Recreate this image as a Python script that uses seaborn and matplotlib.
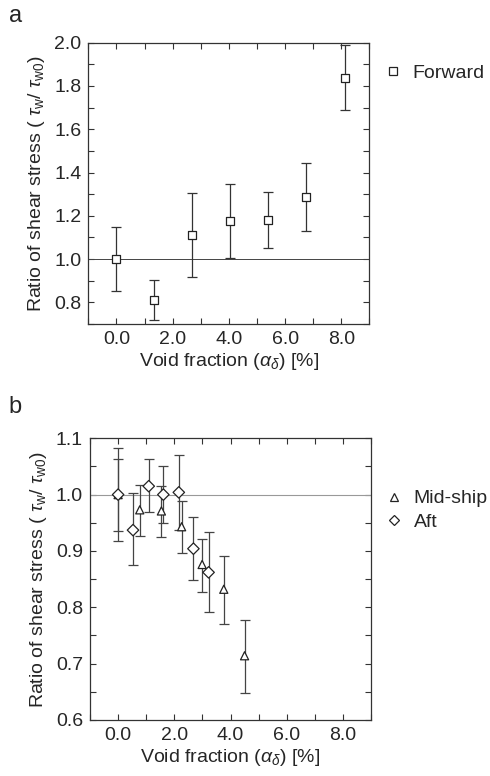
import numpy as np
import pandas as pd
import matplotlib
matplotlib.use("Agg")
import matplotlib.pyplot as plt
from matplotlib.ticker import MultipleLocator, FormatStrFormatter
from matplotlib.lines import Line2D
import seaborn as sns

# panel a: forward
fwd_x = [0.0, 1.35, 2.70, 4.05, 5.41, 6.76, 8.12]
fwd_y = [1.000, 0.813, 1.109, 1.176, 1.180, 1.285, 1.837]
fwd_lo = [0.854, 0.720, 0.916, 1.005, 1.053, 1.130, 1.690]
fwd_hi = [1.146, 0.905, 1.305, 1.349, 1.308, 1.442, 1.988]

# panel b: mid-ship and aft
mid_x = [0.0, 0.77, 1.54, 2.26, 2.99, 3.76, 4.50]
mid_y = [1.000, 0.973, 0.971, 0.943, 0.876, 0.832, 0.714]
mid_lo = [0.936, 0.927, 0.925, 0.896, 0.827, 0.770, 0.647]
mid_hi = [1.064, 1.017, 1.015, 0.989, 0.921, 0.891, 0.777]

aft_x = [0.0, 0.53, 1.09, 1.61, 2.16, 2.68, 3.22]
aft_y = [1.000, 0.937, 1.015, 1.000, 1.004, 0.904, 0.862]
aft_lo = [0.918, 0.875, 0.969, 0.949, 0.938, 0.848, 0.791]
aft_hi = [1.082, 1.002, 1.063, 1.051, 1.070, 0.960, 0.934]

sns.set_style("ticks")
plt.rcParams["font.family"] = ["Liberation Sans", "DejaVu Sans"]
plt.rcParams["mathtext.fontset"] = "custom"
plt.rcParams["mathtext.rm"] = "Liberation Sans"
plt.rcParams["mathtext.it"] = "Liberation Sans:italic"

ylab = r"Ratio of shear stress ( $\tau_{\rm w}$/ $\tau_{\rm w0}$)"
xlab = r"Void fraction ($\alpha_{\delta}$) [%]"
fs = 14
ecol = "#333333"
mec = "#222222"

fig = plt.figure(figsize=(4.9, 7.76), dpi=100)
ax1 = fig.add_axes([0.1802, 0.5825, 0.5737, 0.3625])
ax2 = fig.add_axes([0.1837, 0.0722, 0.5735, 0.3630])


def errs(y, lo, hi):
    y = np.array(y)
    return [y - np.array(lo), np.array(hi) - y]


def style_axes(ax, ymaj, ymin):
    ax.set_xlim(-1, 9)
    ax.xaxis.set_major_locator(MultipleLocator(2))
    ax.xaxis.set_minor_locator(MultipleLocator(1))
    ax.xaxis.set_major_formatter(FormatStrFormatter("%.1f"))
    ax.yaxis.set_major_locator(MultipleLocator(ymaj))
    ax.yaxis.set_minor_locator(MultipleLocator(ymin))
    ax.yaxis.set_major_formatter(FormatStrFormatter("%.1f"))
    ax.tick_params(which="both", direction="in", top=True, right=True,
                   length=4, width=0.8, color="#333333",
                   labelsize=fs, pad=5)
    for s in ax.spines.values():
        s.set_color("#333333")
        s.set_linewidth(0.9)
    ax.set_xlabel(xlab, fontsize=fs, labelpad=2)
    ax.set_ylabel(ylab, fontsize=fs, labelpad=5)


# panel a
ax1.axhline(1.0, color="#444444", lw=0.7, zorder=1)
ax1.errorbar(fwd_x, fwd_y, yerr=errs(fwd_y, fwd_lo, fwd_hi), fmt="none",
             ecolor=ecol, elinewidth=0.9, capsize=3.6, capthick=0.9, zorder=2)
df_a = pd.DataFrame({"x": fwd_x, "y": fwd_y, "series": "Forward"})
sns.scatterplot(data=df_a, x="x", y="y", marker="s", s=26,
                color="white", edgecolor=mec, linewidth=0.9,
                ax=ax1, zorder=3, legend=False)
ax1.set_ylim(0.7, 2.0)
style_axes(ax1, 0.2, 0.1)
h_a = [Line2D([], [], ls="none", marker="s", ms=5.2, mfc="white", mec=mec,
              mew=0.9, label="Forward")]
ax1.legend(handles=h_a, loc="upper left", bbox_to_anchor=(1.0, 0.95),
           frameon=False, fontsize=fs, handletextpad=0.2, handlelength=1.6,
           borderaxespad=0)

# panel b
ax2.axhline(1.0, color="#999999", lw=0.8, zorder=1)
ax2.errorbar(mid_x, mid_y, yerr=errs(mid_y, mid_lo, mid_hi), fmt="none",
             ecolor="#444444", elinewidth=0.9, capsize=3.6, capthick=0.9, zorder=2)
ax2.errorbar(aft_x, aft_y, yerr=errs(aft_y, aft_lo, aft_hi), fmt="none",
             ecolor="#444444", elinewidth=0.9, capsize=3.6, capthick=0.9, zorder=2)
df_b = pd.DataFrame({
    "x": mid_x + aft_x,
    "y": mid_y + aft_y,
    "series": ["Mid-ship"] * len(mid_x) + ["Aft"] * len(aft_x),
})
sns.scatterplot(data=df_b, x="x", y="y", style="series",
                markers={"Mid-ship": "^", "Aft": "D"}, s=34,
                color="white", edgecolor=mec, linewidth=0.9,
                ax=ax2, zorder=3, legend=False)
ax2.set_ylim(0.6, 1.1)
style_axes(ax2, 0.1, 0.05)
h_b = [Line2D([], [], ls="none", marker="^", ms=6.2, mfc="white", mec=mec,
              mew=0.9, label="Mid-ship"),
       Line2D([], [], ls="none", marker="D", ms=5.2, mfc="white", mec=mec,
              mew=0.9, label="Aft")]
ax2.legend(handles=h_b, loc="upper left", bbox_to_anchor=(1.0, 0.845),
           frameon=False, fontsize=fs, handletextpad=0.2, handlelength=1.6,
           borderaxespad=0, labelspacing=0.3)

fig.text(0.018, 0.993, "a", fontsize=17, va="top", ha="left")
fig.text(0.018, 0.490, "b", fontsize=17, va="top", ha="left")

fig.savefig("out.png", dpi=100)
